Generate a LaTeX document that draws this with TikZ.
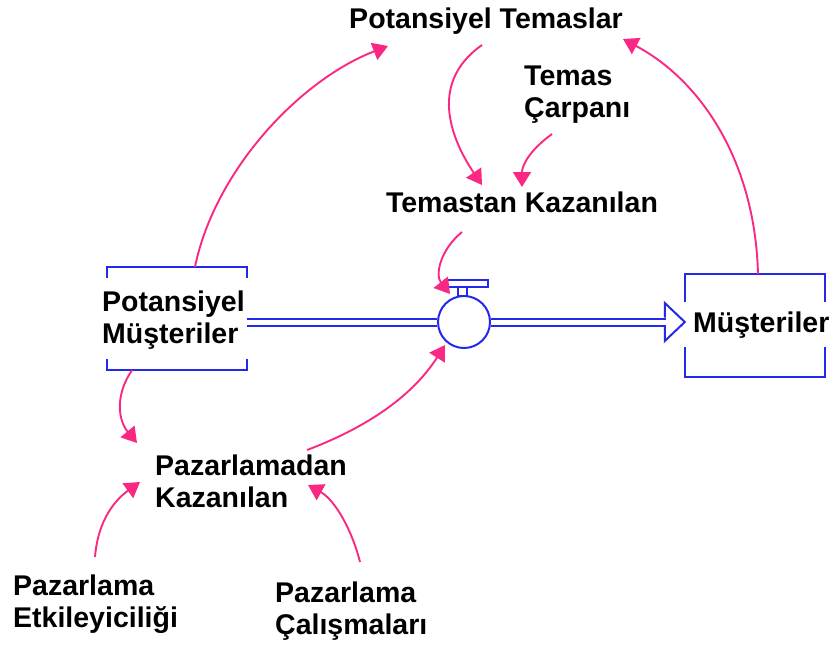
\documentclass[tikz,border=0pt]{standalone}
\usepackage{fontspec}
\setmainfont{Liberation Sans}
\usetikzlibrary{arrows.meta}
\definecolor{linkpink}{RGB}{250,40,130}
\definecolor{stockblue}{RGB}{35,40,235}
\tikzset{
  lbl/.style={inner sep=0pt, font=\fontsize{28.5}{32}\selectfont\bfseries, text=black},
  link/.style={draw=linkpink, line width=1.9pt, -{Triangle[length=15pt,width=18pt]}},
  bluel/.style={draw=stockblue, line width=2.4pt},
  pipe/.style={draw=stockblue, line width=2pt, double=white, double distance=5pt},
  hold/.style={inner sep=0pt, minimum width=140pt}
}
\begin{document}
\begin{tikzpicture}[x=1pt,y=-1pt]
\useasboundingbox (0,0) rectangle (832,646);
% stocks (invisible holders)
\node[hold, minimum height=103pt] (pmbox) at (177,318.5) {};
\node[hold, minimum height=103pt] (mbox) at (755,325.5) {};
\node[circle, draw=stockblue, line width=2pt, minimum size=52pt, inner sep=0pt] (valve) at (464,322) {};
\coordinate (tipm) at (valve.east -| mbox.west);
\coordinate (pipel) at (valve.west -| pmbox.east);
% stock outlines
\draw[bluel] ([shift={(0,11)}]pmbox.north west) -- (pmbox.north west) -- (pmbox.north east) -- ([shift={(0,11)}]pmbox.north east);
\draw[bluel] ([shift={(0,-11)}]pmbox.south west) -- (pmbox.south west) -- (pmbox.south east) -- ([shift={(0,-11)}]pmbox.south east);
\draw[bluel] ([shift={(0,28)}]mbox.north west) -- (mbox.north west) -- (mbox.north east) -- ([shift={(0,28)}]mbox.north east);
\draw[bluel] ([shift={(0,-30)}]mbox.south west) -- (mbox.south west) -- (mbox.south east) -- ([shift={(0,-30)}]mbox.south east);
% flow pipe
\draw[pipe] (pipel) -- (valve.west);
\draw[pipe] (valve.east) -- ([shift={(-19,0)}]tipm);
\draw[draw=stockblue, line width=2pt, line join=miter] ([shift={(-20,-4.5)}]tipm) -- ([shift={(-20,-19)}]tipm) -- (tipm) -- ([shift={(-20,19)}]tipm) -- ([shift={(-20,4.5)}]tipm);
% valve top
\draw[draw=stockblue, line width=1.8pt] ([shift={(-19,-42)}]valve.center) rectangle ([shift={(24,-35)}]valve.center);
\draw[draw=stockblue, line width=1.8pt] ([shift={(-6,-35)}]valve.center) rectangle ([shift={(3,-26)}]valve.center);
% labels
\node[lbl, anchor=base] (pt) at (486,28) {Potansiyel Temaslar};
\node[lbl, anchor=north west, align=left] (tc) at (524,66) {Temas\\Çarpanı};
\node[lbl, anchor=base] (tk) at (522,212) {Temastan Kazanılan};
\node[lbl, anchor=north west, align=left] (pmt) at (102,291) {Potansiyel\\Müşteriler};
\node[lbl, anchor=base west] (mt) at (693,332) {Müşteriler};
\node[lbl, anchor=north west, align=left] (pk) at (155,455) {Pazarlamadan\\Kazanılan};
\node[lbl, anchor=north west, align=left] (pe) at (13,575) {Pazarlama\\Etkileyiciliği};
\node[lbl, anchor=north west, align=left] (pc) at (275,582) {Pazarlama\\Çalışmaları};
% connectors
\draw[link] ([shift={(18,0)}]pmbox.north) .. controls (215,170) and (300,80) .. ([shift={(-98,18)}]pt.base);
\draw[link] ([shift={(-4,17)}]pt.base) .. controls (425,85) and (455,145) .. ([shift={(-40,-27)}]tk.base);
\draw[link] ([shift={(28,68)}]tc.north west) .. controls (530,150) and (522,165) .. ([shift={(0,-25)}]tk.base);
\draw[link] ([shift={(3,0)}]mbox.north) .. controls (755,160) and (700,80) .. ([shift={(137,11)}]pt.base);
\draw[link] ([shift={(-60,20)}]tk.base) .. controls (440,250) and (435,275) .. ([shift={(-14,-28)}]valve.center);
\draw[link] ([shift={(-45,0)}]pmbox.south) .. controls (115,395) and (118,420) .. ([shift={(-18,-12)}]pk.north west);
\draw[link] ([shift={(152,-5)}]pk.north west) .. controls (360,430) and (410,400) .. ([shift={(-19,23)}]valve.center);
\draw[link] ([shift={(82,-18)}]pe.north west) .. controls (98,520) and (115,500) .. ([shift={(-15,27)}]pk.north west);
\draw[link] ([shift={(85,-20)}]pc.north west) .. controls (352,530) and (335,500) .. ([shift={(153,30)}]pk.north west);
\end{tikzpicture}
\end{document}
